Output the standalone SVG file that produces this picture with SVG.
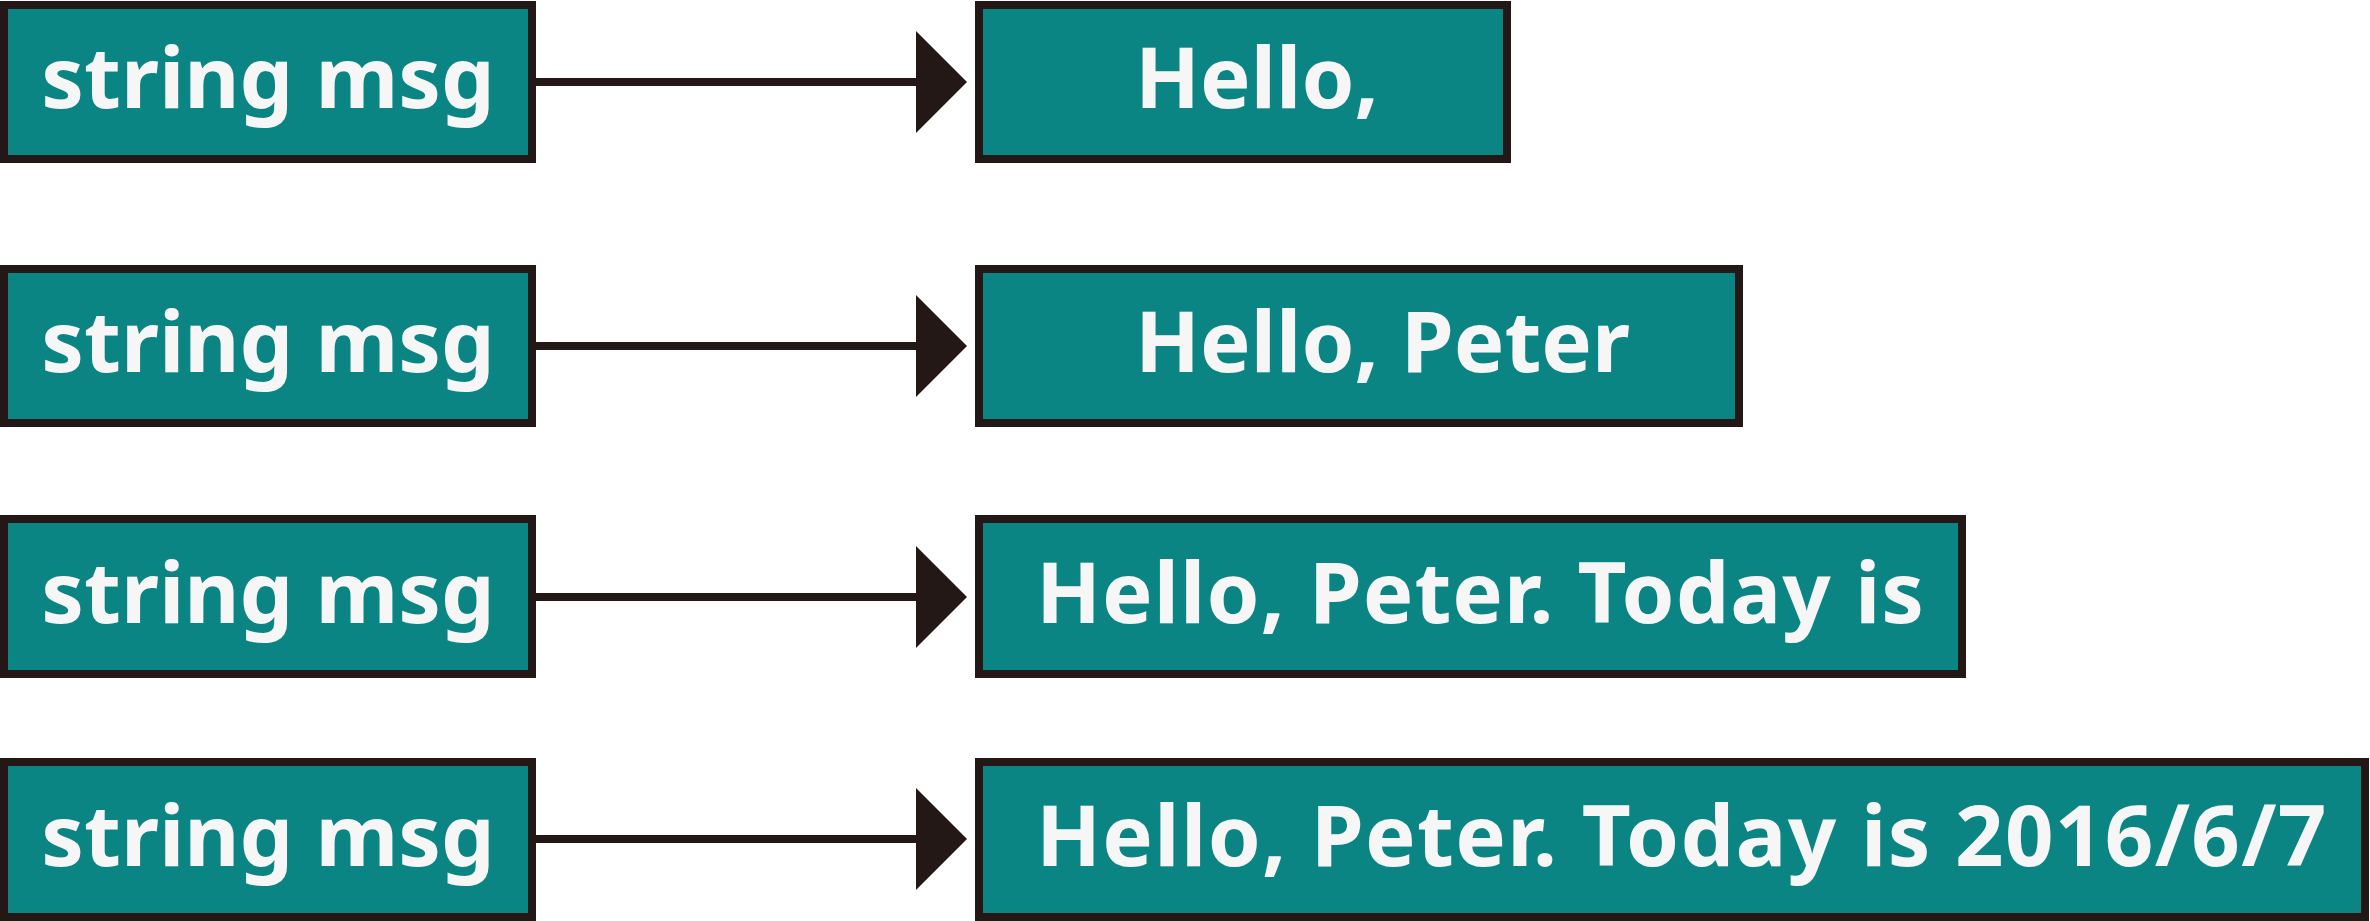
<svg xmlns="http://www.w3.org/2000/svg" width="2370" height="921" viewBox="0 0 2370 921">
<style>
.box{fill:#0b8583;stroke:#231815;stroke-width:8}
.t{font-family:"Noto Sans","Open Sans",sans-serif;font-weight:bold;font-size:85px;fill:#f6f6f6}
.w{letter-spacing:1px}
.ln{stroke:#231815;stroke-width:8;fill:none}
.ah{fill:#231815}
</style>
<rect width="2370" height="921" fill="#ffffff"/>
<g id="src1"><rect class="box" x="4" y="5" width="528" height="154"/><text class="t" x="268" y="108" text-anchor="middle">string msg</text></g>
<g id="src2"><rect class="box" x="4" y="269" width="528" height="154"/><text class="t" x="268" y="372" text-anchor="middle">string msg</text></g>
<g id="src3"><rect class="box" x="4" y="519" width="528" height="155"/><text class="t" x="268" y="623" text-anchor="middle">string msg</text></g>
<g id="src4"><rect class="box" x="4" y="762" width="528" height="155"/><text class="t" x="268" y="866" text-anchor="middle">string msg</text></g>
<g id="dst1"><rect class="box" x="979" y="5" width="528" height="154"/><text class="t" x="1135" y="108">Hello,</text></g>
<g id="dst2"><rect class="box" x="979" y="269" width="760" height="154"/><text class="t" x="1135" y="372">Hello, Peter</text></g>
<g id="dst3"><rect class="box" x="979" y="519" width="983" height="155"/><text class="t w" x="1036" y="623">Hello, Peter. Today is</text></g>
<g id="dst4"><rect class="box" x="979" y="762" width="1386" height="155"/><text class="t w" x="1036" y="866" style="letter-spacing:1.3px">Hello, Peter. Today is 2016/6/7</text></g>
<g id="connectors">
<line class="ln" x1="536" y1="82" x2="917" y2="82"/><polygon class="ah" points="916,31 967,82 916,133"/>
<line class="ln" x1="536" y1="346" x2="917" y2="346"/><polygon class="ah" points="916,295 967,346 916,397"/>
<line class="ln" x1="536" y1="597" x2="917" y2="597"/><polygon class="ah" points="916,546 967,597 916,648"/>
<line class="ln" x1="536" y1="839" x2="917" y2="839"/><polygon class="ah" points="916,788 967,839 916,890"/>
</g>
</svg>
